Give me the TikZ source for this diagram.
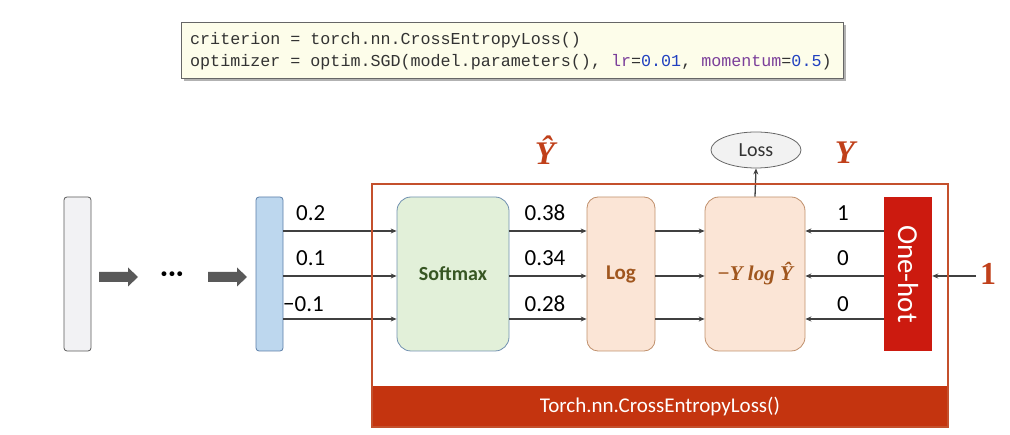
\documentclass[tikz,border=0pt]{standalone}
\usepackage{fontspec}
\setmainfont{Carlito}
\newfontfamily\codefont{Liberation Mono}
\newfontfamily\serifbi{Liberation Serif}
\usetikzlibrary{arrows.meta,shapes.geometric,shadows}
\definecolor{codebg}{HTML}{FDFDEA}
\definecolor{codetxt}{HTML}{333333}
\definecolor{codepur}{HTML}{7B3F9A}
\definecolor{codeblue}{HTML}{2040C0}
\definecolor{arrgray}{HTML}{404040}
\definecolor{bigarr}{HTML}{595959}
\definecolor{barfill}{HTML}{F2F2F4}
\definecolor{bluefill}{HTML}{BDD7EE}
\definecolor{bluedraw}{HTML}{5B7EA8}
\definecolor{softfill}{HTML}{E2F0D9}
\definecolor{softdraw}{HTML}{7090B0}
\definecolor{softtxt}{HTML}{375623}
\definecolor{logfill}{HTML}{FBE5D6}
\definecolor{logdraw}{HTML}{C0906C}
\definecolor{logtxt}{HTML}{A0561E}
\definecolor{boxred}{HTML}{C4502C}
\definecolor{bandred}{HTML}{C4340F}
\definecolor{onehot}{HTML}{CC1A0F}
\definecolor{lblred}{HTML}{C0401A}
\definecolor{lossfill}{HTML}{F2F2F2}
\tikzset{
  arr/.style={draw=arrgray, line width=1.3pt, -{Stealth[length=6pt,width=5pt]}},
  vbar/.style={rounded corners=3pt, minimum width=27pt, minimum height=154pt, inner sep=0pt, line width=0.8pt},
  proc/.style={rounded corners=14pt, minimum height=154pt, inner sep=0pt, line width=0.8pt},
  num/.style={font=\fontsize{23}{23}\selectfont, text=black, inner sep=0pt},
  big/.style={font=\serifbi\bfseries\itshape\fontsize{33}{33}\selectfont, text=lblred, inner sep=0pt},
  code/.style={font=\codefont\fontsize{16.7}{16.7}\selectfont, text=codetxt, inner sep=0pt, anchor=west}
}
\begin{document}
\begin{tikzpicture}[x=1pt,y=-1pt]
\useasboundingbox (0,0) rectangle (1010,435);
% code box
\node[draw=gray!80!black, fill=codebg, line width=0.8pt, minimum width=662pt, minimum height=56pt, inner sep=0pt, anchor=north west,
  drop shadow={shadow xshift=3pt, shadow yshift=-3pt, fill=gray!60, opacity=1}] (codebox) at (181,22) {};
\node[code] (c1) at (190,40) {criterion = torch.nn.CrossEntropyLoss()};
\node[code] (c2) at (190,62) {optimizer = optim.SGD(model.parameters(), \textcolor{codepur}{lr}=\textcolor{codeblue}{0.01}, \textcolor{codepur}{momentum}=\textcolor{codeblue}{0.5})};
% row coordinates
\coordinate (r1) at (0,231);
\coordinate (r2) at (0,276);
\coordinate (r3) at (0,319);
% left bars
\node[vbar, draw=gray!70!black, fill=barfill] (gbar) at (77.5,274) {};
\node[vbar, draw=bluedraw, fill=bluefill] (bbar) at (269.5,274) {};
\fill[bigarr] (99,272) -- (128,272) -- (128,267.5) -- (138,277) -- (128,286.5) -- (128,282) -- (99,282) -- cycle;
\fill[bigarr] (208,272) -- (237,272) -- (237,267.5) -- (247,277) -- (237,286.5) -- (237,282) -- (208,282) -- cycle;
\node[inner sep=0pt, font=\bfseries\fontsize{26}{26}\selectfont] (dots) at (172,277) {·\kern1pt·\kern1pt·};
% processing boxes
\node[proc, draw=softdraw, fill=softfill, minimum width=112pt, font=\bfseries\fontsize{20}{20}\selectfont, text=softtxt] (soft) at (453,274) {Softmax};
\node[proc, draw=logdraw, fill=logfill, minimum width=68pt, rounded corners=11pt, font=\bfseries\fontsize{21}{21}\selectfont, text=logtxt] (log) at (621,274) {Log};
\node[proc, draw=logdraw, fill=logfill, minimum width=100pt, font=\serifbi\bfseries\itshape\fontsize{21}{21}\selectfont, text=logtxt] (func) at (755,274) {−Y log Ŷ};
\node[fill=onehot, minimum width=48pt, minimum height=154pt, inner sep=0pt] (oh) at (908,274) {};
\node[rotate=-90, text=white, font=\fontsize{29}{29}\selectfont, inner sep=0pt] (ohtxt) at (oh.center) {One-hot};
\node[ellipse, draw=gray!80!black, fill=lossfill, line width=0.8pt, minimum width=90pt, minimum height=36pt, inner sep=0pt, font=\fontsize{20}{20}\selectfont, text=black!80] (loss) at (756,150) {Loss};
% connectors
\foreach \r in {r1,r2,r3} {
  \draw[arr] (bbar.east |- \r) -- (soft.west |- \r);
  \draw[arr] (soft.east |- \r) -- (log.west |- \r);
  \draw[arr] (log.east |- \r) -- (func.west |- \r);
  \draw[arr] (oh.west |- \r) -- (func.east |- \r);
}
\draw[arr] (func.north) -- (loss.south);
\coordinate (inR) at (976,276);
\draw[arr] (inR) -- (oh.east |- inR);
% number labels
\node[num, anchor=west] (a1) at (296,213) {0.2};
\node[num, anchor=west] (a2) at (296,258) {0.1};
\node[num, anchor=west] (a3) at (283,304) {−0.1};
\node[num] (b1) at (545,213) {0.38};
\node[num] (b2) at (545,258) {0.34};
\node[num] (b3) at (545,304) {0.28};
\node[num] (y1) at (843,213) {1};
\node[num] (y2) at (843,258) {0};
\node[num] (y3) at (843,304) {0};
\node[big] (yhat) at (545,150) {Ŷ};
\node[big] (ylab) at (845,153) {Y};
\node[font=\serifbi\bfseries\fontsize{32}{32}\selectfont, text=lblred, inner sep=0pt] (one) at (988,274) {1};
% red frame
\fill[bandred] (372,386) rectangle (948,427);
\draw[boxred, line width=2pt] (372,184) rectangle (948,427);
\node[text=white, font=\fontsize{21}{21}\selectfont, inner sep=0pt] (band) at (660,407) {Torch.nn.CrossEntropyLoss()};
\end{tikzpicture}
\end{document}
